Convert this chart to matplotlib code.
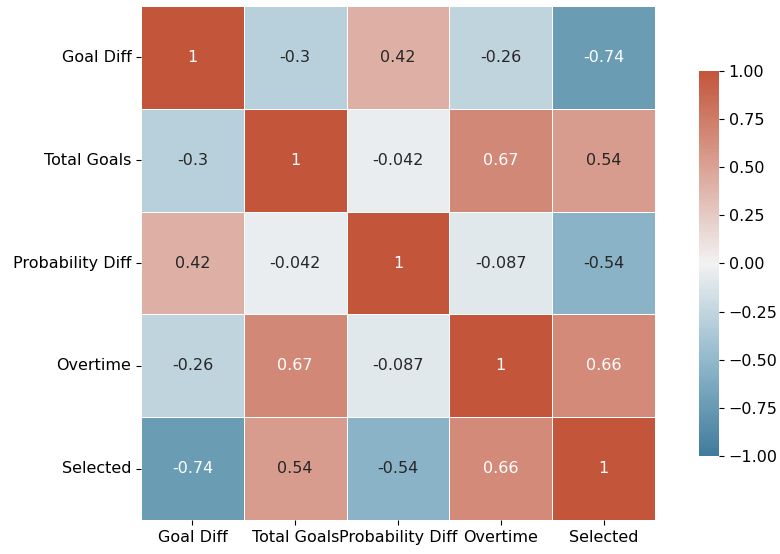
import numpy as np
import pandas as pd
import seaborn as sns
import matplotlib
matplotlib.use('Agg')
import matplotlib.pyplot as plt

labels = ['Goal Diff', 'Total Goals', 'Probability Diff', 'Overtime', 'Selected']
goal_diff = [1, -0.3, 0.42, -0.26, -0.74]
total_goals = [-0.3, 1, -0.042, 0.67, 0.54]
prob_diff = [0.42, -0.042, 1, -0.087, -0.54]
overtime = [-0.26, 0.67, -0.087, 1, 0.66]
selected = [-0.74, 0.54, -0.54, 0.66, 1]

corr = pd.DataFrame([goal_diff, total_goals, prob_diff, overtime, selected],
                    index=labels, columns=labels)

fig = plt.figure(figsize=(7.8, 5.54), dpi=100)
ax = fig.add_axes([0.1808, 0.0596, 0.659, 0.931])
cax = fig.add_axes([0.896, 0.177, 0.0256, 0.695])

# blue -> light grey -> red diverging map
cmap = sns.blend_palette(['#3f7c9b', '#92b9cc', '#f2f2f2', '#daa396', '#c3553a'],
                         as_cmap=True)
sns.heatmap(corr, cmap=cmap, vmin=-1, vmax=1, center=0, annot=True,
            square=True, linewidths=.5, ax=ax, cbar_ax=cax,
            annot_kws={'size': 11.5})
ax.tick_params(axis='both', labelsize=11.5, length=3.5)
plt.setp(ax.get_yticklabels(), rotation=0)
plt.setp(ax.get_xticklabels(), rotation=0)

# light text only on the strongest cells
vals = corr.values.ravel()
for txt, v in zip(ax.texts, vals):
    txt.set_color('white' if abs(v) > 0.6 else '#262626')

cbar = ax.collections[0].colorbar
ticks = np.arange(-1, 1.01, 0.25)
cbar.set_ticks(ticks)
cbar.ax.set_yticklabels([('%.2f' % t).replace('-', '\u2212') for t in ticks])
cax.tick_params(labelsize=11.5, length=3.5)
cbar.outline.set_visible(False)

fig.savefig('out.png', dpi=100)
